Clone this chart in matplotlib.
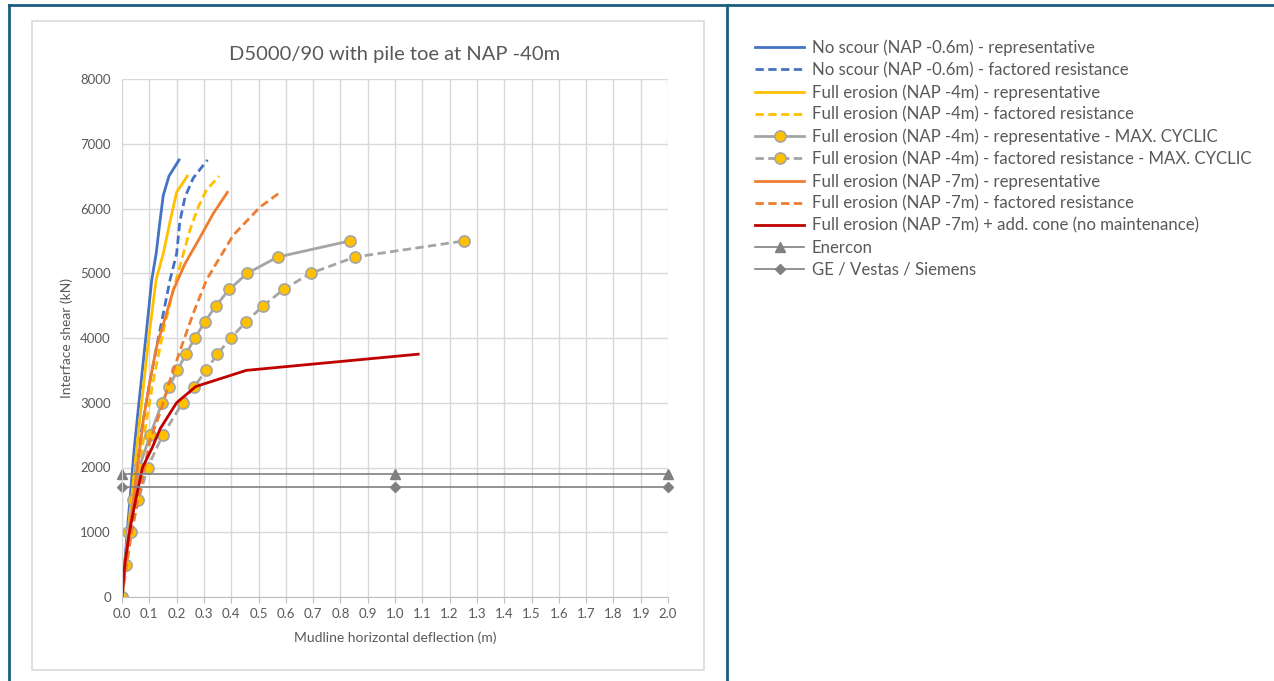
import matplotlib.pyplot as plt
from matplotlib.lines import Line2D
from matplotlib.patches import Rectangle

plt.rcParams['font.family'] = ['Lato', 'DejaVu Sans']

# load-deflection curves (x in m, shear in kN)
noscour_rep_x = [0, 0.019, 0.045, 0.062, 0.087, 0.109, 0.125, 0.139, 0.151, 0.172, 0.209]
noscour_rep_v = [0, 1000, 2300, 3000, 4000, 4900, 5300, 5800, 6200, 6500, 6750]
noscour_fac_x = [0, 0.025, 0.072, 0.103, 0.139, 0.176, 0.2, 0.212, 0.231, 0.261, 0.313]
noscour_fac_v = [0, 1000, 2580, 3350, 4120, 4900, 5300, 5800, 6180, 6470, 6750]

ero4_rep_x = [0, 0.022, 0.054, 0.072, 0.098, 0.125, 0.151, 0.176, 0.2, 0.239]
ero4_rep_v = [0, 1000, 2300, 3000, 4000, 4900, 5300, 5800, 6250, 6500]
ero4_fac_x = [0, 0.028, 0.084, 0.115, 0.152, 0.188, 0.218, 0.249, 0.28, 0.31, 0.356]
ero4_fac_v = [0, 1000, 2580, 3350, 4120, 4740, 5200, 5670, 6030, 6290, 6500]

cyc_v = [0, 500, 1000, 1500, 2000, 2500, 3000, 3250, 3500, 3750, 4000, 4250, 4500, 4750, 5000, 5250, 5500]
cyc_rep_x = [0, 0.012, 0.023, 0.042, 0.063, 0.103, 0.147, 0.173, 0.203, 0.234, 0.267, 0.304, 0.344, 0.393, 0.459, 0.57, 0.835]
cyc_fac_x = [0, 0.015, 0.033, 0.06, 0.094, 0.149, 0.222, 0.265, 0.308, 0.349, 0.399, 0.454, 0.518, 0.592, 0.691, 0.853, 1.254]

ero7_rep_x = [0, 0.027, 0.078, 0.103, 0.127, 0.163, 0.188, 0.231, 0.28, 0.334, 0.386]
ero7_rep_v = [0, 1000, 2730, 3350, 3870, 4380, 4740, 5150, 5510, 5920, 6250]
ero7_fac_x = [0, 0.035, 0.103, 0.139, 0.176, 0.218, 0.261, 0.31, 0.345, 0.408, 0.505, 0.579]
ero7_fac_v = [0, 1000, 2430, 2840, 3350, 3870, 4380, 4900, 5150, 5590, 6020, 6250]

cone_x = [0, 0.01, 0.027, 0.05, 0.075, 0.11, 0.14, 0.2, 0.27, 0.455, 1.085]
cone_v = [0, 500, 1000, 1500, 2000, 2300, 2600, 3000, 3250, 3500, 3750]

limit_x = [0, 1.0, 2.0]
enercon_v = [1900, 1900, 1900]
ge_v = [1700, 1700, 1700]

labels = [
    'No scour (NAP -0.6m) - representative',
    'No scour (NAP -0.6m) - factored resistance',
    'Full erosion (NAP -4m) - representative',
    'Full erosion (NAP -4m) - factored resistance',
    'Full erosion (NAP -4m) - representative - MAX. CYCLIC',
    'Full erosion (NAP -4m) - factored resistance - MAX. CYCLIC',
    'Full erosion (NAP -7m) - representative',
    'Full erosion (NAP -7m) - factored resistance',
    'Full erosion (NAP -7m) + add. cone (no maintenance)',
    'Enercon',
    'GE / Vestas / Siemens',
]

blue, yellow, grey, orange, red = '#4472C4', '#FFC000', '#A5A5A5', '#ED7D31', '#C00000'
txt = '#595959'

fig = plt.figure(figsize=(12.74, 6.81), dpi=100)

# outer page frame and chart box
W, H = 1274, 681
def fx(px): return px / W
def fy(py): return 1 - py / H
frame = '#1B5E7E'
fig.add_artist(Line2D([fx(9), fx(1274)], [fy(5), fy(5)], color=frame, lw=2))
fig.add_artist(Line2D([fx(9), fx(9)], [fy(5), fy(681)], color=frame, lw=2))
fig.add_artist(Line2D([fx(727), fx(727)], [fy(5), fy(681)], color=frame, lw=2))
fig.add_artist(Rectangle((fx(32), fy(670)), fx(704) - fx(32), fy(21) - fy(670),
                         fill=False, edgecolor='#D9D9D9', lw=1.2))

ax = fig.add_axes([fx(122), fy(597), fx(668) - fx(122), fy(79) - fy(597)])

ax.plot(noscour_rep_x, noscour_rep_v, color=blue, lw=2, label=labels[0])
ax.plot(noscour_fac_x, noscour_fac_v, color=blue, lw=2, ls=(0, (3, 1.6)), label=labels[1])
ax.plot(ero4_rep_x, ero4_rep_v, color=yellow, lw=2, label=labels[2])
ax.plot(ero4_fac_x, ero4_fac_v, color=yellow, lw=2, ls=(0, (3, 1.6)), label=labels[3])
ax.plot(cyc_rep_x, cyc_v, color=grey, lw=2, marker='o', ms=8, mfc=yellow, mec=grey,
        mew=1.2, label=labels[4])
ax.plot(cyc_fac_x, cyc_v, color=grey, lw=2, ls=(0, (3, 1.6)), marker='o', ms=8, mfc=yellow,
        mec=grey, mew=1.2, label=labels[5])
ax.plot(ero7_rep_x, ero7_rep_v, color=orange, lw=2, label=labels[6])
ax.plot(ero7_fac_x, ero7_fac_v, color=orange, lw=2, ls=(0, (3, 1.6)), label=labels[7])
ax.plot(cone_x, cone_v, color=red, lw=2, label=labels[8])
ax.plot(limit_x, enercon_v, color='#808080', lw=1.2, marker='^', ms=7, label=labels[9],
        clip_on=False)
ax.plot(limit_x, ge_v, color='#808080', lw=1.2, marker='D', ms=5, label=labels[10],
        clip_on=False)

ax.set_xlim(0, 2.0)
ax.set_ylim(0, 8000)
ax.set_xticks([i / 10 for i in range(21)])
ax.set_xticklabels([f'{i / 10:.1f}' for i in range(21)])
ax.set_yticks(range(0, 8001, 1000))
ax.grid(True, color='#D9D9D9', lw=1)
ax.set_axisbelow(True)
for s in ['top', 'right']:
    ax.spines[s].set_visible(False)
ax.spines['left'].set_color('#D9D9D9')
ax.spines['bottom'].set_color('#BFBFBF')
ax.tick_params(axis='y', length=0, labelsize=9.5, labelcolor=txt, pad=8)
ax.tick_params(axis='x', length=4, color='#BFBFBF', labelsize=9.5, labelcolor=txt, pad=4)

ax.set_title('D5000/90 with pile toe at NAP -40m', fontsize=14.5, color=txt, pad=14)
ax.set_xlabel('Mudline horizontal deflection (m)', fontsize=10, color=txt, labelpad=8)
ax.set_ylabel('Interface shear (kN)', fontsize=10, color=txt, labelpad=5)

fig.legend(*ax.get_legend_handles_labels(), loc='upper left',
           bbox_to_anchor=(fx(748), fy(33)), frameon=False, fontsize=12.1,
           labelcolor=txt, handlelength=2.95, handletextpad=0.45, labelspacing=0.35,
           borderaxespad=0)

fig.savefig('out.png', dpi=100)
